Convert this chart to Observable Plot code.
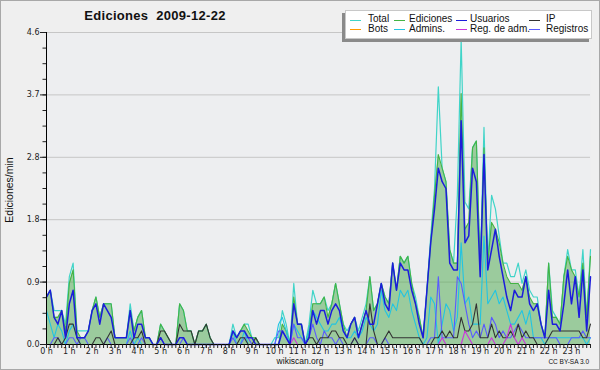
<!DOCTYPE html>
<html><head><meta charset="utf-8">
<script src="https://cdn.jsdelivr.net/npm/d3@7"></script>
<script src="https://cdn.jsdelivr.net/npm/@observablehq/plot@0.6"></script>
<style>
html,body{margin:0;padding:0;background:#efefef;}
#wrap{position:relative;width:600px;height:370px;background:#efefef;overflow:hidden;font-family:"Liberation Sans",sans-serif;color:#111;}
#wrap svg{position:absolute;left:0;top:0;}
#border{position:absolute;left:0;top:0;width:598px;height:368px;border:1px solid #a8a8a8;pointer-events:none;}
#title{position:absolute;left:0;width:310px;top:8px;text-align:center;font-weight:bold;font-size:13px;letter-spacing:0.3px;}
#legend{position:absolute;left:345px;top:10px;width:245px;height:27px;background:#fff;border:1px solid #c8c8c8;box-shadow:-3px 3px 0 #8a8a8a;}
.li{position:absolute;font-size:10px;line-height:10px;white-space:nowrap;}
.sw{position:absolute;height:0;border-top:1px solid;}
#ylab{position:absolute;left:9px;top:190px;transform:translate(-50%,-50%) rotate(-90deg);font-size:10.5px;white-space:nowrap;}
#foot{position:absolute;left:0;width:600px;top:356px;text-align:center;font-size:8.5px;}
#cc{position:absolute;right:11px;top:358px;font-size:6.5px;}
</style></head>
<body>
<div id="wrap">
  <div id="title">Ediciones&nbsp; 2009-12-22</div>
  <div id="ylab">Ediciones/min</div>
  <div id="foot">wikiscan.org</div>
  <div id="cc">CC BY-SA 3.0</div>
  <div id="legend"></div>
  <div id="border"></div>
</div>
<script>
// 10-minute bins, 0:00 .. 23:50 (edits per minute)
const total = [
 0.7,0.8,0.5,0.5,0.5,0.3, 1.0,1.2,0.2,0.2,0.2,0.2, 0.5,0.7,0.4,0.6,0.6,0.6, 0.1,0.1,0.1,0.1,0.6,0.2,
 0.4,0.5,0.1,0.1,0,0, 0.3,0.2,0.1,0,0,0.6, 0.5,0.2,0.2,0,0.2,0.2, 0.3,0.1,0,0,0,0,
 0,0.3,0.1,0.2,0.3,0.3, 0.1,0.1,0,0,0,0, 0.1,0.1,0.5,0.3,0,0.9, 0.3,0.3,0,0.3,0.8,0.6,
 0.6,0.7,0.5,0.6,0.9,0.6, 0.3,0.2,0.3,0.4,0.2,0.4, 0.6,1.0,0.5,0.6,0.9,0.7, 0.6,1.2,0.8,1.3,1.2,1.3,
 0.9,0.7,0.4,0.1,0.8,1.6, 2.3,3.8,2.6,2.4,1.4,1.2, 2.2,4.5,2.1,2.0,2.9,3.0, 1.1,3.2,1.2,2.2,2.0,1.6,
 1.2,1.2,1.0,1.0,1.2,0.9, 1.1,0.8,0.7,0.7,0.3,0.1, 1.2,0.5,0.4,0.3,1.0,1.4, 1.1,1.1,0.7,1.4,0.4,1.4];
const ediciones = [
 0.7,0.8,0.4,0.4,0.5,0.2, 0.9,1.1,0.2,0.1,0.1,0.2, 0.5,0.7,0.4,0.6,0.6,0.6, 0.1,0.1,0.1,0.1,0.5,0.2,
 0.4,0.5,0.1,0.1,0,0, 0.3,0.2,0.1,0,0,0.6, 0.5,0.2,0.2,0,0.2,0.2, 0.3,0.1,0,0,0,0,
 0,0.2,0.1,0.2,0.3,0.2, 0.1,0.1,0,0,0,0, 0,0,0.3,0.2,0,0.7, 0.3,0.3,0,0.2,0.6,0.6,
 0.6,0.7,0.4,0.6,0.9,0.6, 0.3,0.1,0.3,0.4,0.1,0.3, 0.5,1.0,0.5,0.6,0.9,0.7, 0.6,1.2,0.8,1.3,1.2,1.3,
 0.9,0.6,0.4,0.1,0.8,1.5, 2.2,2.8,2.6,2.4,1.4,1.2, 1.2,3.7,1.7,1.8,2.9,3.0, 1.1,2.9,1.2,1.8,1.7,1.5,
 1.2,1.0,0.9,0.9,0.9,0.8, 1.0,0.7,0.6,0.6,0.3,0.1, 1.2,0.4,0.4,0.3,1.0,1.3, 1.1,1.0,0.7,1.2,0.4,1.3];
const usuarios = [
 0.7,0.8,0.4,0.3,0.5,0.1, 0.6,0.8,0.1,0.1,0.1,0.2, 0.5,0.6,0.3,0.6,0.5,0.4, 0.1,0.1,0.1,0.1,0.5,0.1,
 0.3,0.3,0.1,0.1,0,0, 0.1,0,0,0,0,0.1, 0.1,0,0,0,0,0, 0,0,0,0,0,0,
 0,0.2,0.1,0.2,0.2,0.1, 0.1,0,0,0,0,0, 0,0,0.2,0.1,0,0.6, 0.3,0.3,0,0.1,0.5,0.3,
 0.5,0.5,0.3,0.5,0.6,0.5, 0.2,0.1,0.3,0.4,0.1,0.3, 0.5,0.3,0.3,0.6,0.9,0.6, 0.5,1.2,0.8,1.2,1.1,1.1,
 0.8,0.6,0.3,0.1,0.8,1.5, 2.0,2.6,2.4,2.3,1.2,1.1, 1.1,3.3,1.5,1.6,2.6,2.4, 1.0,2.8,1.1,1.4,1.7,1.3,
 1.0,0.7,0.5,0.8,0.7,0.7, 1.0,0.6,0.5,0.6,0.3,0.1, 0.8,0.3,0.3,0.2,0.6,1.1, 0.6,1.0,0.4,1.1,0.2,1.0];
const ip = [
 0,0,0,0.1,0,0.1, 0.3,0.3,0.1,0,0,0, 0,0.1,0.1,0,0.1,0.2, 0,0,0,0,0,0.1,
 0.1,0.2,0,0,0,0, 0.2,0.2,0.1,0,0,0.3, 0.2,0.2,0.2,0,0.2,0.2, 0.3,0.1,0,0,0,0,
 0,0,0,0.1,0.1,0, 0,0.1,0,0,0,0, 0,0,0,0,0,0, 0,0,0,0.1,0.1,0,
 0.1,0.1,0.1,0.2,0.2,0.1, 0.1,0,0,0.1,0,0, 0,0.6,0.2,0,0,0.1, 0.2,0.1,0.1,0.1,0.1,0.1,
 0.1,0.1,0.1,0,0,0, 0.1,0.1,0.2,0.1,0.2,0.1, 0.1,0.4,0.2,0.2,0.3,0.6, 0.1,0.1,0.1,0.3,0.1,0.2,
 0.1,0.1,0.2,0.1,0.3,0.1, 0.2,0.1,0.1,0,0,0, 0.1,0.2,0.2,0.2,0.2,0.2, 0.2,0.2,0.2,0.1,0.1,0.3];
const registros = [
 0,0,0.1,0.1,0,0, 0.1,0.1,0,0.1,0.1,0, 0,0,0,0,0.1,0, 0,0,0,0,0.1,0,
 0,0.1,0,0,0,0, 0.1,0,0,0,0,0, 0.1,0,0,0,0,0, 0,0,0,0,0,0,
 0,0.1,0,0,0.1,0.1, 0,0,0,0,0,0, 0,0.2,0.2,0.1,0,0.3, 0.1,0.1,0,0.1,0.3,0.1,
 0,0.2,0.1,0.1,0,0.1, 0,0,0,0.1,0,0, 0,0.1,0.1,0,0,0.1, 0,0,0,0,0,0,
 0,0,0,0,0,0.1, 0.1,1.0,0.1,0.1,0.1,0.1, 1.0,0.9,0.6,0.3,0.1,0.2, 0.1,0.3,0.1,0.4,0.3,0.1,
 0.2,0.1,0.1,0.2,0.3,0.2, 0.1,0.1,0.1,0.1,0.1,0.1, 0.1,0.1,0.1,0,0,0, 0.1,0.1,0.1,0.2,0.1,0.1];
const admins = [
 0.5,0.3,0.1,0.3,0.2,0, 0.2,0.3,0.1,0,0,0, 0,0,0,0,0,0, 0,0,0,0,0.2,0,
 0.1,0,0,0,0,0, 0,0,0,0,0,0, 0,0,0,0,0,0, 0,0,0,0,0,0,
 0,0.2,0,0,0.2,0, 0,0,0,0,0,0, 0,0.3,0.4,0.2,0,0.3, 0.2,0.1,0,0.2,0.5,0.4,
 0.3,0.2,0.2,0.3,0.3,0.4, 0.2,0.1,0.1,0.2,0.1,0.2, 0.4,0.3,0.2,0.3,0.8,0.5, 0.4,0.6,0.5,0.8,0.7,0.8,
 0.5,0.3,0.1,0,0.1,0.7, 0.6,0,0.3,0.6,0.5,0.2, 0.4,1.5,0.6,0.7,0.3,0.3, 0.3,1.6,0.6,0.7,0.8,0.6,
 0.7,0.5,0.3,0.3,0.4,0.5, 0.3,0.5,0.1,0.1,0.1,0, 0.1,0.1,0.1,0.1,0.1,0.1, 0.1,0.1,0.1,0.1,0,0.1];
const regAdm = [
 0,0,0,0,0,0, 0,0,0,0,0,0, 0,0,0,0,0,0, 0,0,0,0,0,0,
 0,0,0,0,0,0, 0,0,0,0,0,0, 0,0,0,0,0,0, 0,0,0,0,0,0,
 0,0,0,0,0,0, 0,0,0,0,0,0, 0,0,0,0,0,0.1, 0,0,0,0,0,0,
 0,0,0,0,0,0, 0,0,0,0,0,0, 0,0,0,0,0,0, 0,0,0,0,0,0,
 0,0,0,0,0,0, 0,0,0.1,0,0,0, 0,0,0.2,0.1,0,0, 0,0,0,0.1,0,0,
 0,0.1,0.3,0.1,0,0.1, 0,0,0,0,0,0, 0,0,0,0,0,0, 0,0,0,0,0,0];

const hourTicks = d3.range(24);
const yTickValues = [0, 0.92, 1.84, 2.76, 3.68, 4.6];
const legendNames = ["Total","Ediciones","Usuarios","IP","Bots","Admins.","Reg. de adm.","Registros"];
const legendColors = ["#40d4c8","#44b444","#1c1cdc","#333333","#ff9900","#22c4e2","#cc33dd","#5a5aff"];

const rows = d3.range(total.length).map(i => ({
  t: i / 6, total: total[i], ediciones: ediciones[i], usuarios: usuarios[i], ip: ip[i],
  registros: registros[i], admins: admins[i], regAdm: regAdm[i]
}));
const col = Object.fromEntries(legendNames.map((n, i) => [n, legendColors[i]]));
const minorX = d3.range(total.length).map(i => i / 6);
const minorY = d3.range(0, 21).map(k => +(k * 0.23).toFixed(2));

const line = (key, name, w = 1.1) => Plot.lineY(rows, {x: "t", y: key, stroke: col[name], strokeWidth: w});

const chart = Plot.plot({
  width: 600, height: 370,
  marginLeft: 46, marginRight: 10, marginTop: 32, marginBottom: 26,
  x: {domain: [0, (total.length - 1) / 6]},
  y: {domain: [0, 4.6]},
  style: {background: "transparent", fontFamily: "DejaVu Sans, sans-serif", fontSize: "8px", color: "#222"},
  marks: [
    Plot.frame({fill: "#edeef0", stroke: null}),
    Plot.gridY(yTickValues.slice(1), {stroke: "#c6c6c6", strokeOpacity: 1}),
    Plot.areaY(rows, {x: "t", y: "ediciones", fill: "#4aa84a", fillOpacity: 0.5}),
    line("total", "Total", 1.2),
    line("ediciones", "Ediciones", 1.1),
    line("admins", "Admins.", 1.1),
    line("registros", "Registros", 1.1),
    line("ip", "IP", 1.1),
    line("regAdm", "Reg. de adm.", 1.1),
    line("usuarios", "Usuarios", 1.5),
    Plot.ruleX([0], {stroke: "#000"}),
    Plot.ruleY([0], {stroke: "#000"}),
    Plot.axisY(yTickValues, {tickSize: 6, tickPadding: 1, tickFormat: d => d.toFixed(1), label: null, fontSize: 8}),
    Plot.axisY(minorY, {tickSize: 3.5, tickFormat: () => "", label: null}),
    Plot.axisX(minorX, {tickSize: 4, tickFormat: () => "", label: null}),
    Plot.axisX(hourTicks, {tickSize: 4, tickPadding: 0, tickFormat: d => d + " h", label: null, fontSize: 8})
  ]
});
const wrap = document.getElementById("wrap");
wrap.insertBefore(chart, wrap.firstChild);

// legend
const lg = document.getElementById("legend");
const colsX = [[4, 22], [48, 63], [110, 124], [183, 200]];
legendNames.forEach((n, i) => {
  const c = i % 4, r = Math.floor(i / 4);
  const sw = document.createElement("div");
  sw.className = "sw";
  sw.style.left = colsX[c][0] + "px";
  sw.style.width = "11px";
  sw.style.top = (r ? 18 : 9) + "px";
  sw.style.borderTopColor = legendColors[i];
  lg.appendChild(sw);
  const tx = document.createElement("div");
  tx.className = "li";
  tx.style.left = colsX[c][1] + "px";
  tx.style.top = (r ? 13 : 3) + "px";
  tx.textContent = n;
  lg.appendChild(tx);
});
</script>
</body></html>
